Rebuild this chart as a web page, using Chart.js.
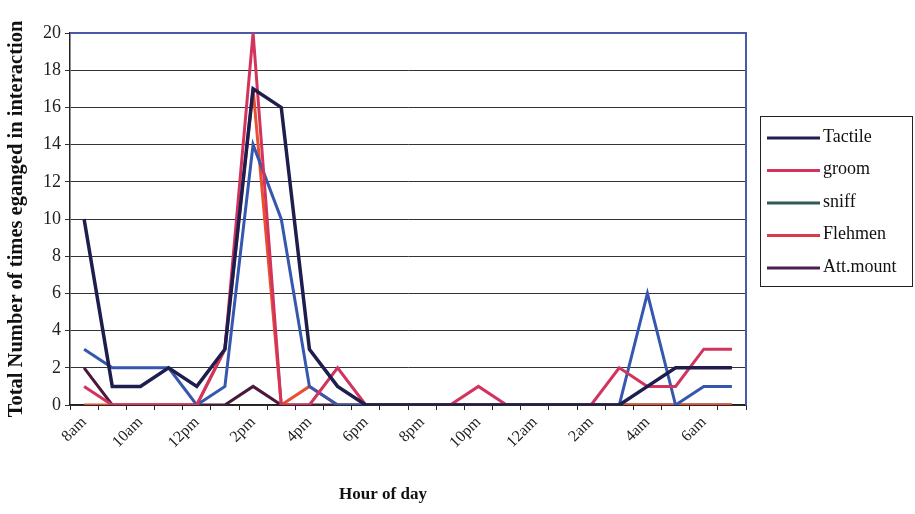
<!DOCTYPE html>
<html lang="en">
<head>
  <meta charset="UTF-8" />
  <title>Interactions by hour of day</title>
  <style>
    html, body { margin: 0; padding: 0; background: #fff; }
    #wrap { width: 915px; height: 514px; }
  </style>
  <script src="https://cdn.jsdelivr.net/npm/chart.js"></script>
</head>
<body>
  <div id="wrap"><canvas id="grafico"></canvas></div>

  <script>
    // hours, 8am -> 7am
    const horas = ['8am','9am','10am','11am','12pm','1pm','2pm','3pm','4pm','5pm','6pm','7pm',
                   '8pm','9pm','10pm','11pm','12am','1am','2am','3am','4am','5am','6am','7am'];
    const yTicks = [0, 2, 4, 6, 8, 10, 12, 14, 16, 18, 20];

    const tactile  = [10,1,1,2,1,3,17,16,3,1,0,0,0,0,0,0,0,0,0,0,1,2,2,2];
    const groom    = [1,0,0,0,0,3,20,0,0,2,0,0,0,0,1,0,0,0,0,2,1,1,3,3];
    const sniff    = [3,2,2,2,0,1,14,10,1,0,0,0,0,0,0,0,0,0,0,0,6,0,1,1];
    const flehmen  = [0,0,0,0,0,3,17,0,1,0,0,0,0,0,0,0,0,0,0,0,0,0,0,0];
    const attMount = [2,0,0,0,0,0,1,0,0,0,0,0,0,0,0,0,0,0,0,0,0,0,0,0];

    const serif = '"Liberation Serif", "DejaVu Serif", serif';

    // legend box + plot frame + x title
    const extras = {
      id: 'extras',
      beforeDatasetsDraw(chart) {
        const { ctx, chartArea: a } = chart;
        ctx.save();
        ctx.strokeStyle = '#4c58a8';
        ctx.lineWidth = 2;
        ctx.beginPath();
        ctx.moveTo(a.left, a.top);
        ctx.lineTo(a.right, a.top);
        ctx.lineTo(a.right, a.bottom);
        ctx.stroke();
        ctx.restore();
      },
      afterDraw(chart) {
        const ctx = chart.ctx;
        ctx.save();
        // legend
        const x0 = 760, y0 = 116, w = 152, h = 170;
        ctx.strokeStyle = '#222';
        ctx.lineWidth = 1;
        ctx.strokeRect(x0 + 0.5, y0 + 0.5, w, h);
        ctx.font = '18px ' + serif;
        ctx.textBaseline = 'middle';
        chart.data.datasets.forEach((ds, i) => {
          const y = 138 + i * 32.5;
          ctx.strokeStyle = ds.legendColor || ds.borderColor;
          ctx.lineWidth = 3;
          ctx.beginPath();
          ctx.moveTo(767, y);
          ctx.lineTo(820, y);
          ctx.stroke();
          ctx.fillStyle = '#111';
          ctx.fillText(ds.label, 823, y - 1);
        });
        // x title
        ctx.font = 'bold 17px ' + serif;
        ctx.textAlign = 'center';
        ctx.fillText('Hour of day', 383, 495);
        ctx.restore();
      }
    };

    function serie(label, data, cor, largura, legendColor) {
      return {
        label: label,
        data: data,
        borderColor: cor,
        legendColor: legendColor,
        borderWidth: largura,
        pointRadius: 0,
        tension: 0,
        fill: false
      };
    }

    new Chart(document.getElementById('grafico'), {
      type: 'line',
      data: {
        labels: horas,
        datasets: [
          serie('Tactile', tactile, '#1e1e4e', 3.5),
          serie('groom', groom, '#d2345e', 3),
          serie('sniff', sniff, '#3558ae', 3, '#2f5a55'),
          serie('Flehmen', flehmen, '#e8502e', 3, '#d83a4a'),
          serie('Att.mount', attMount, '#4a1838', 3, '#4a2050')
        ]
      },
      options: {
        responsive: true,
        maintainAspectRatio: false,
        animation: false,
        layout: { padding: { left: 0, top: 33, right: 169, bottom: 0 } },
        plugins: {
          legend: { display: false },
          tooltip: { enabled: false }
        },
        scales: {
          x: {
            offset: true,
            afterFit: s => { s.height = 109; },
            grid: {
              offset: true,
              drawOnChartArea: false,
              drawTicks: true,
              tickLength: 5,
              color: '#222'
            },
            border: { color: '#222', width: 1.5 },
            ticks: {
              autoSkip: false,
              maxRotation: 45,
              minRotation: 45,
              padding: 3,
              color: '#222',
              font: { family: serif, size: 16 },
              callback: (v, i) => i % 2 === 0 ? horas[i] : ''
            }
          },
          y: {
            min: 0,
            max: 20,
            afterFit: s => { s.width = 70; },
            afterBuildTicks: s => { s.ticks = yTicks.map(v => ({ value: v })); },
            grid: {
              color: '#333',
              lineWidth: 1,
              tickLength: 5
            },
            border: { color: '#222', width: 1.5 },
            ticks: {
              padding: 4,
              color: '#222',
              font: { family: serif, size: 18 }
            },
            title: {
              display: true,
              text: 'Total Number of times eganged in interaction',
              color: '#111',
              font: { family: serif, size: 20.5, weight: 'bold' },
              padding: { top: 4, bottom: 0 }
            }
          }
        }
      },
      plugins: [extras]
    });
  </script>
</body>
</html>
